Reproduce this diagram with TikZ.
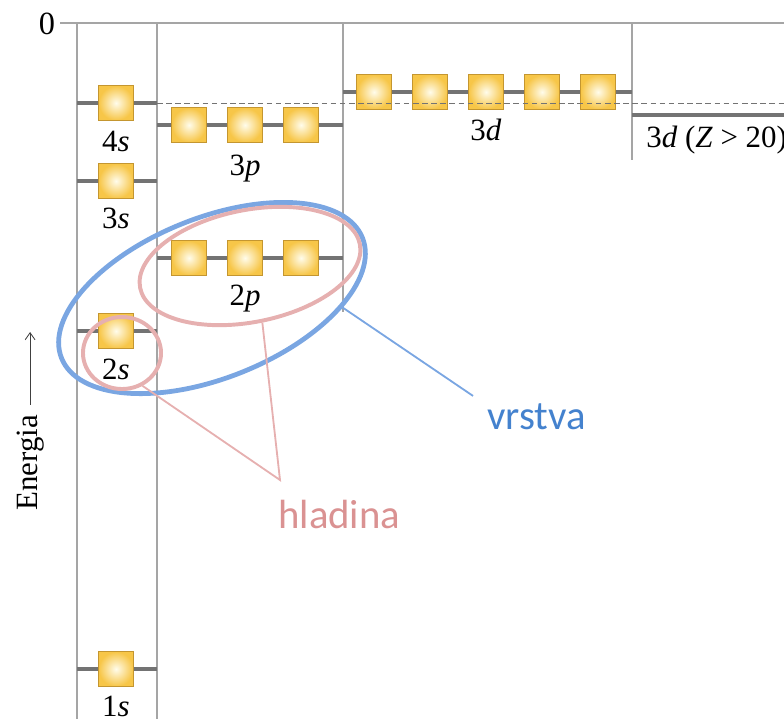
\documentclass[tikz,border=0pt]{standalone}
\usepackage{fontspec}
\setmainfont{Liberation Serif}
\newfontfamily\calib{Carlito}
\usetikzlibrary{shapes.geometric,arrows.meta,positioning}

\definecolor{boxyellow}{RGB}{247,198,72}
\definecolor{boxcenter}{RGB}{255,252,235}
\definecolor{boxedge}{RGB}{196,150,48}
\definecolor{levelgray}{RGB}{115,115,115}
\definecolor{framegray}{RGB}{165,165,165}
\definecolor{shellblue}{RGB}{122,166,226}
\definecolor{shelltext}{RGB}{68,130,206}
\definecolor{subpink}{RGB}{230,176,176}
\definecolor{subtext}{RGB}{218,146,146}

\tikzset{
	orbital/.style = {draw=boxedge, line width=0.5pt, minimum size=0.86cm, inner sep=0pt,
		shading=radial, inner color=boxcenter, outer color=boxyellow},
	level/.style = {levelgray, line width=2.8pt},
	frame/.style = {framegray, line width=1pt},
	lbl/.style = {font=\fontsize{22}{24}\selectfont, anchor=base, inner sep=0pt},
	shellring/.style = {ellipse, draw=shellblue, line width=3.4pt, inner sep=0pt},
	subring/.style = {ellipse, draw=subpink, line width=2.8pt, inner sep=0pt},
	note/.style = {font=\calib\fontsize{29}{32}\selectfont},
}

\begin{document}
\begin{tikzpicture}[x=0.025cm, y=-0.025cm]
	\useasboundingbox (0,0) rectangle (784,719);
	% frame
	\draw[frame] (60,23) -- (784,23);
	\draw[frame] (77,23) -- (77,719);
	\draw[frame] (157,23) -- (157,719);
	\draw[frame] (343,23) -- (343,312);
	\draw[frame] (632,23) -- (632,160);
	\node[font=\fontsize{23}{25}\selectfont] (zero) at (47,24) {0};

	% levels
	\foreach \y in {103,181,331,669} \draw[level] (77,\y) -- (157,\y);
	\draw[level] (157,125) -- (343,125);
	\draw[level] (157,258) -- (343,258);
	\draw[level] (343,92) -- (632,92);
	\draw[level] (632,115) -- (784,115);

	% orbitals
	\node[orbital] (s4) at (116,103) {};
	\node[orbital] (s3) at (116,181) {};
	\node[orbital] (s2) at (116,331) {};
	\node[orbital] (s1) at (116,669) {};
	\foreach \n/\x in {1/189,2/245,3/301} {
		\node[orbital] (p3\n) at (\x,125) {};
		\node[orbital] (p2\n) at (\x,258) {};
	}
	\foreach \n in {1,...,5} \node[orbital] (d3\n) at (318+56*\n,92) {};
	\draw[levelgray, line width=0.6pt, dash pattern=on 4pt off 2.5pt] (157,103) -- (784,103);

	\node[lbl] (l4s) at (116,151) {4\textit{s}};
	\node[lbl] (l3s) at (116,228) {3\textit{s}};
	\node[lbl] (l2s) at (116,379) {2\textit{s}};
	\node[lbl] (l1s) at (116,716) {1\textit{s}};
	\node[lbl] (l3p) at (245,175) {3\textit{p}};
	\node[lbl] (l2p) at (245,305) {2\textit{p}};
	\node[lbl] (l3d) at (486,140) {3\textit{d}};
	\node[lbl, anchor=base west] (l3dz) at (646,147) {3\textit{d} (\textit{Z} > 20)};

	% energy axis
	\node[font=\fontsize{22}{24}\selectfont, rotate=90, anchor=base] (energia) at (37,463) {Energia};
	\path (energia.center) ++(0,-131) coordinate (etip);
	\draw[black!75, line width=0.6pt, shorten <=4pt, -{Straight Barb[length=5pt,width=7pt]}] (energia) -- (etip);

	% shell and subshells
	\node[shellring, minimum width=8.1cm, minimum height=4cm, rotate=21.8] (shell) at (212,298) {};
	\node[subring, minimum width=5.6cm, minimum height=2.8cm, rotate=11.3] (sub2p) at (250,266) {};
	\node[subring, minimum width=1.95cm, minimum height=1.8cm] (sub2s) at (122,353) {};

	\node[note, text=shelltext, anchor=base west, inner xsep=10pt, inner ysep=5pt] (vrstva) at (473,429) {vrstva};
	\draw[shellblue, line width=1.3pt] (shell.-26) -- (vrstva.north west);

	\coordinate (hjoin) at (280,480);
	\node[note, text=subtext, anchor=base west, inner sep=0pt] (hladina) at (278,528) {hladina};
	\draw[subpink, line width=1.3pt] (sub2p.-89) -- (hjoin) -- (sub2s.-58);
\end{tikzpicture}
\end{document}
